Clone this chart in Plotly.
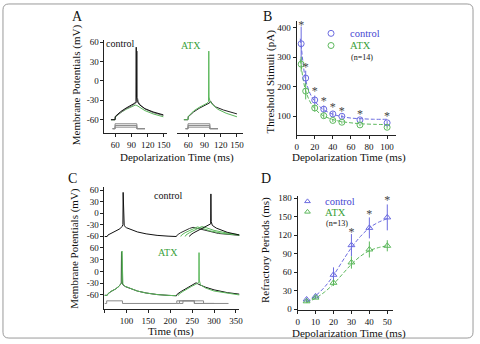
import plotly.graph_objects as go

W, H = 480, 344
FONT = "Liberation Serif"
BLUE = "#6b6be0"
BLUE_T = "#4646d2"
GREEN = "#5cb85c"
GREEN_T = "#3a9f3a"
GRAY = "#8a8a8a"

# ---------------- Panel A data (ms, mV) ----------------
a_ctrl1_t = [52, 59.6, 60, 65, 70, 80, 90, 96, 98.3, 98.8, 99.3, 101, 105, 115, 130, 149]
a_ctrl1_v = [-60, -60, -55, -51, -47.5, -42, -37.5, -34.5, -32, 52, -25, -32, -37, -43, -48, -52.5]
a_ctrl2_t = [52, 59.6, 60, 65, 70, 80, 90, 97, 100, 100.5, 101, 103, 107, 115, 130, 149]
a_ctrl2_v = [-60, -60, -55.5, -52, -48.5, -43, -39, -35.5, -33, 46, -26, -33, -38, -43.5, -49, -53.5]
a_ctrl3_t = [52, 59.6, 60, 65, 70, 80, 90, 97, 100, 105, 115, 130, 149]
a_ctrl3_v = [-60, -60, -56, -52.5, -49, -44, -40, -37.5, -38, -41, -46, -51, -55.5]
a_atx1_t = [52, 59.6, 60, 65, 70, 80, 90, 95, 97.5, 98, 98.5, 100, 105, 115, 130, 150]
a_atx1_v = [-60, -60, -55, -50, -46.5, -41, -37, -34.5, -32, 46, -25, -31, -37, -44, -50, -55.5]
a_atx2_t = [52, 59.6, 60, 65, 70, 80, 90, 96, 99.5, 101, 104, 110, 125, 150]
a_atx2_v = [-60, -60, -55.5, -51.5, -48, -42.5, -38.5, -36, -34, -31, -35, -40, -45, -51]
a_stim_t = [55, 59.6, 100, 115]
a_stim_base = -73.9
a_stim_levels = [-66.3, -68.9, -71.5]

# ---------------- Panel B data ----------------
b_x = [5, 10, 20, 30, 40, 50, 70, 100]
b_ctrl = [345, 229, 155, 124, 108, 100, 88, 78]
b_ctrl_err = [58, 25, 15, 12, 8, 6, 5, 6]
b_atx = [276, 185, 128, 102, 86, 80, 71, 63]
b_atx_err = [25, 28, 12, 8, 5, 5, 4, 5]
b_fit_x = [4, 5, 7, 10, 15, 20, 25, 30, 40, 50, 60, 70, 85, 100]
b_fit_ctrl = [362, 340, 282, 222, 176, 151, 134, 122, 107, 99, 94, 92, 90, 90]
b_fit_atx = [292, 272, 228, 186, 148, 126, 111, 101, 89, 82, 78, 75, 73, 72]
b_star_x = [5, 10, 20, 30, 40, 50, 70, 100]
b_star_y = [404, 262, 181, 148, 128, 116, 104, 96]

# ---------------- Panel C data ----------------
c_pre_t = [50, 56, 58, 65, 75, 85, 90, 92, 92.6, 93.3, 95, 100, 110, 125, 145, 170, 195, 214]
c_pre_v = [-61, -61, -57, -53, -48, -41, -35, -30, 54, -20, -33, -38, -43, -49, -54, -58, -60, -61]
c_top_tr = [
    ([214, 216, 224, 234, 244, 252, 262, 280, 310, 358], [-61, -57, -51, -45, -40, -37, -40, -46, -53, -58]),
    ([224, 226, 234, 244, 254, 262, 272, 290, 320, 358], [-61, -57, -51, -45, -40, -36, -39, -46, -53, -57.5]),
    ([234, 236, 244, 254, 264, 272, 282, 300, 330, 358], [-61, -57, -51, -45, -40, -35, -38, -45, -52, -56.5]),
    ([244, 246, 254, 264, 274, 284, 290, 292.3, 292.8, 293.4, 296, 305, 330, 358],
     [-61, -57, -51, -45, -40, -35, -31, -28, 50, -22, -32, -39, -50, -57]),
]
c_top_col = ["#333333", GREEN, GREEN, "#111111"]
c_bot_pre_k_t = [50, 56, 58, 65, 75, 83, 87, 88.3, 88.8, 89.4, 91, 96, 110, 125, 145, 170, 195, 214]
c_bot_pre_k_v = [-61, -61, -57, -51, -45, -38, -32, -30, 50, -20, -32, -38, -44, -50, -55, -59, -61, -62]
c_bot_pre_g_t = [50, 56, 58, 65, 75, 83, 88, 89.5, 90, 90.6, 92, 97, 110, 125, 145, 170, 195, 214]
c_bot_pre_g_v = [-61, -61, -57, -51, -45, -38, -31, -29, 52, -20, -32, -38, -44, -50, -55, -59, -61, -62]
c_bot_k_t = [214, 216, 225, 235, 245, 255, 259, 265, 280, 300, 330, 358]
c_bot_k_v = [-62, -58, -51, -44, -38, -32, -29, -33, -40, -47, -54, -58]
c_bot_g_t = [218, 220, 229, 239, 249, 258, 263, 265.2, 265.7, 266.3, 269, 280, 300, 330, 358]
c_bot_g_v = [-62, -58, -51, -44, -38, -33, -30, -28, 48, -22, -34, -42, -50, -56, -60]
c_stim_base = -81.7
c_stim_top = -75
c_stim = [
    ([50, 55, 91, 215, 255, 333], [c_stim_base, c_stim_top, c_stim_base, c_stim_top, c_stim_base, c_stim_base]),
    ([215, 221, 276, 300], [c_stim_base, c_stim_top, c_stim_base, c_stim_base]),
    ([221, 229, 255, 300], [c_stim_base, c_stim_top, c_stim_base, c_stim_base]),
]

# ---------------- Panel D data ----------------
d_x = [5, 10, 20, 30, 40, 50]
d_ctrl = [16, 21, 56, 104, 132, 149]
d_ctrl_err = [3, 2, 12, 18, 17, 21]
d_atx = [13, 19, 43, 76, 97, 103]
d_atx_err = [2, 2, 5, 10, 13, 9]
d_fit_x = [5, 10, 15, 20, 25, 30, 35, 40, 45, 50]
d_fit_ctrl = [12, 22, 36, 55, 78, 100, 118, 132, 141, 147]
d_fit_atx = [11, 18, 28, 41, 57, 73, 86, 95, 100, 103]
d_star_x = [30, 40, 50]
d_star_y = [124, 153, 175]


def xd(a, b):
    return [a / W, b / W]


def yd(top, bottom):
    return [1 - bottom / H, 1 - top / H]


fig = go.Figure()


def line(x, y, xa, ya, color, width=1, dash=None, shape="linear"):
    fig.add_trace(go.Scatter(x=x, y=y, xaxis=xa, yaxis=ya, mode="lines",
                             line=dict(color=color, width=width, dash=dash, shape=shape),
                             hoverinfo="skip", showlegend=False))


# Panel A
for lv in a_stim_levels:
    line(a_stim_t, [a_stim_base, lv, a_stim_base, a_stim_base], "x", "y", GRAY, 1, shape="hv")
    line(a_stim_t, [a_stim_base, lv, a_stim_base, a_stim_base], "x2", "y2", GRAY, 1, shape="hv")
line(a_ctrl3_t, a_ctrl3_v, "x", "y", GREEN, 1)
line(a_ctrl2_t, a_ctrl2_v, "x", "y", "#777777", 1)
line(a_ctrl1_t, a_ctrl1_v, "x", "y", "#111111", 1)
line(a_atx2_t, a_atx2_v, "x2", "y2", "#222222", 1)
line(a_atx1_t, a_atx1_v, "x2", "y2", GREEN, 1)

# Panel B
line(b_fit_x, b_fit_ctrl, "x3", "y3", BLUE, 1, dash="4px,2px", shape="spline")
line(b_fit_x, b_fit_atx, "x3", "y3", GREEN, 1, dash="4px,2px", shape="spline")
for yv, ev, col in [(b_ctrl, b_ctrl_err, BLUE), (b_atx, b_atx_err, GREEN)]:
    fig.add_trace(go.Scatter(x=b_x, y=yv, xaxis="x3", yaxis="y3", mode="markers",
                             marker=dict(symbol="circle-open", size=6, color=col, line=dict(width=1)),
                             error_y=dict(type="data", array=ev, color=col, thickness=1, width=0),
                             showlegend=False, hoverinfo="skip"))
fig.add_trace(go.Scatter(x=b_star_x, y=b_star_y, xaxis="x3", yaxis="y3", mode="text",
                         text=["*"] * len(b_star_x), textfont=dict(family=FONT, size=12, color="#444444"),
                         showlegend=False, hoverinfo="skip"))
fig.add_trace(go.Scatter(x=[38, 38], y=[380, 339], xaxis="x3", yaxis="y3", mode="markers",
                         marker=dict(symbol="circle-open", size=6, color=[BLUE, GREEN], line=dict(width=1)),
                         showlegend=False, hoverinfo="skip"))

# Panel C
line(c_pre_t, c_pre_v, "x4", "y4", "#111111", 1)
for (tt, vv), col in zip(c_top_tr, c_top_col):
    line(tt, vv, "x4", "y4", col, 1)
for tt, vv in c_stim:
    line(tt, vv, "x5", "y5", GRAY, 1, shape="hv")
line(c_bot_pre_k_t, c_bot_pre_k_v, "x5", "y5", "#111111", 1)
line(c_bot_pre_g_t, c_bot_pre_g_v, "x5", "y5", GREEN, 1)
line(c_bot_k_t, c_bot_k_v, "x5", "y5", "#111111", 1)
line(c_bot_g_t, c_bot_g_v, "x5", "y5", GREEN, 1)

# Panel D
line(d_fit_x, d_fit_ctrl, "x6", "y6", BLUE, 1, dash="4px,2px", shape="spline")
line(d_fit_x, d_fit_atx, "x6", "y6", GREEN, 1, dash="4px,2px", shape="spline")
for yv, ev, col in [(d_ctrl, d_ctrl_err, BLUE), (d_atx, d_atx_err, GREEN)]:
    fig.add_trace(go.Scatter(x=d_x, y=yv, xaxis="x6", yaxis="y6", mode="markers",
                             marker=dict(symbol="triangle-up-open", size=6, color=col, line=dict(width=1)),
                             error_y=dict(type="data", array=ev, color=col, thickness=1, width=0),
                             showlegend=False, hoverinfo="skip"))
fig.add_trace(go.Scatter(x=d_star_x, y=d_star_y, xaxis="x6", yaxis="y6", mode="text",
                         text=["*"] * len(d_star_x), textfont=dict(family=FONT, size=12, color="#444444"),
                         showlegend=False, hoverinfo="skip"))
fig.add_trace(go.Scatter(x=[5.5, 5.5], y=[175, 158], xaxis="x6", yaxis="y6", mode="markers",
                         marker=dict(symbol="triangle-up-open", size=5, color=[BLUE, GREEN], line=dict(width=1)),
                         showlegend=False, hoverinfo="skip"))

tickfont = dict(family=FONT, size=9, color="#111")


def ax(domain, rng, tickvals=None, ticktext=None, showline=True, anchor=None, visible=True, showticks=True):
    d = dict(domain=domain, range=rng, showgrid=False, zeroline=False, showline=showline,
             linecolor="#222", linewidth=1, ticks="outside" if showticks else "", ticklen=3,
             tickcolor="#222", tickfont=tickfont, fixedrange=True, visible=visible, tickangle=0)
    if tickvals is not None:
        d["tickvals"] = tickvals
        d["ticktext"] = ticktext if ticktext is not None else [str(v) for v in tickvals]
    else:
        d["showticklabels"] = False
    if anchor:
        d["anchor"] = anchor
    return d


mv_ticks = [60, 30, 0, -30, -60]
mv_text = ["60", "30", "0", "-30", "-60"]

fig.update_layout(
    width=W, height=H, margin=dict(l=0, r=0, t=0, b=0),
    paper_bgcolor="white", plot_bgcolor="rgba(0,0,0,0)",
    font=dict(family=FONT, color="#111"),
    xaxis=ax(xd(104, 167), [40, 155], [60, 90, 120, 150], anchor="y"),
    yaxis=ax(yd(38, 133), [-81, 62.8], mv_ticks, mv_text, anchor="x"),
    xaxis2=ax(xd(178, 245), [40, 162], [60, 90, 120, 150], anchor="y2"),
    yaxis2=ax(yd(38, 133), [-81, 62.8], showline=False, anchor="x2", showticks=False),
    xaxis3=ax(xd(299, 400), [0, 110], [0, 20, 40, 60, 80, 100], anchor="y3"),
    yaxis3=ax(yd(18, 135), [36, 423], [100, 200, 300, 400], anchor="x3"),
    xaxis4=ax(xd(104, 241), [50, 358], anchor="y4", visible=False),
    yaxis4=ax(yd(188, 243), [-72.8, 67.6], mv_ticks, mv_text, anchor="x4"),
    xaxis5=ax(xd(104, 241), [50, 358], [50, 100, 150, 200, 250, 300, 350],
              ["", "100", "150", "200", "250", "300", "350"], anchor="y5"),
    yaxis5=ax(yd(243, 312.7), [-96.7, 77.5], mv_ticks, mv_text, anchor="x5"),
    xaxis6=ax(xd(300, 397), [0, 53.3], [0, 10, 20, 30, 40, 50], anchor="y6"),
    yaxis6=ax(yd(197, 313.7), [-1.6, 183.7], [0, 30, 60, 90, 120, 150, 180], anchor="x6"),
)


def pann(text, px, py, size=11.5, color="#111", angle=0, xanchor="center"):
    fig.add_annotation(text=text, x=px / W, y=1 - py / H, xref="paper", yref="paper",
                       showarrow=False, textangle=angle, xanchor=xanchor, yanchor="middle",
                       font=dict(family=FONT, size=size, color=color))


# panel letters
pann("A", 77, 14, 14)
pann("B", 269, 14, 14)
pann("C", 72, 179, 14)
pann("D", 268, 179, 14)
# axis titles
pann("Membrane Potentials (mV)", 75, 83, 11, angle=-90)
pann("Depolarization Time (ms)", 178, 158, 11)
pann("Threshold Stimuli (pA)", 272, 80, 11, angle=-90)
pann("Depolarization Time (ms)", 352, 158, 11)
pann("Membrane Potentials (mV)", 74, 250, 11, angle=-90)
pann("Time (ms)", 172, 335, 11)
pann("Refractory Periods (ms)", 268, 252, 11, angle=-90)
pann("Depolarization Time (ms)", 352, 337, 11)
# in-plot labels
pann("control", 120, 41, 10)
pann("ATX", 192, 43, 10, GREEN_T)
pann("control", 169, 196, 10)
pann("ATX", 168, 255, 10, GREEN_T)
pann("control", 351, 31, 10.5, BLUE_T, xanchor="left")
pann("ATX", 351, 43, 10.5, GREEN_T, xanchor="left")
pann("(n=14)", 352, 56, 8, xanchor="left")
pann("control", 326, 203, 10.5, BLUE_T, xanchor="left")
pann("ATX", 326, 214, 10.5, GREEN_T, xanchor="left")
pann("(n=13)", 327, 225, 8, xanchor="left")

# outer rounded frame
r, x0, x1, y0, y1 = 6, 1, 478, 1, 342


def P(px, py):
    return f"{px / W:.5f},{1 - py / H:.5f}"


path = (f"M {P(x0 + r, y0)} L {P(x1 - r, y0)} Q {P(x1, y0)} {P(x1, y0 + r)} "
        f"L {P(x1, y1 - r)} Q {P(x1, y1)} {P(x1 - r, y1)} L {P(x0 + r, y1)} "
        f"Q {P(x0, y1)} {P(x0, y1 - r)} L {P(x0, y0 + r)} Q {P(x0, y0)} {P(x0 + r, y0)} Z")
fig.add_shape(type="path", path=path, xref="paper", yref="paper",
              line=dict(color="#9a9a9a", width=1))

fig.write_html("out.html", config={"displayModeBar": False})
